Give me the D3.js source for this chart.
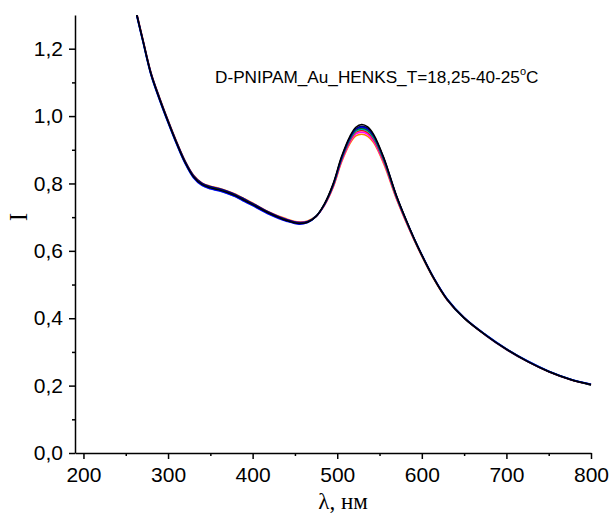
<!DOCTYPE html>
<html>
<head>
<meta charset="utf-8">
<script src="https://cdn.jsdelivr.net/npm/d3@7"></script>
<style>
  html, body { margin: 0; padding: 0; background: #fff; }
  svg { display: block; }
</style>
</head>
<body>
<svg id="chart" width="610" height="517"></svg>
<script>
// ---- data ----
const wavelengths = [263,270,280,290,300,310,320,330,340,350,360,370,380,390,400,420,440,455,465,475,485,495,505,515,522,529,536,543,555,570,586,596,614,630,650,675,700,725,750,775,800];

const seriesOrange  = [1.305,1.231,1.128,1.055,0.988,0.925,0.868,0.825,0.802,0.792,0.786,0.778,0.768,0.755,0.742,0.715,0.695,0.686,0.689,0.703,0.735,0.787,0.862,0.918,0.941,0.946,0.940,0.921,0.858,0.754,0.659,0.605,0.517,0.454,0.400,0.350,0.307,0.271,0.241,0.218,0.202];
const seriesMagenta = [1.303,1.229,1.126,1.053,0.986,0.923,0.866,0.823,0.800,0.790,0.784,0.776,0.766,0.753,0.740,0.713,0.693,0.684,0.687,0.702,0.736,0.789,0.865,0.923,0.947,0.952,0.946,0.926,0.862,0.756,0.660,0.606,0.518,0.455,0.401,0.351,0.308,0.272,0.242,0.219,0.203];
const seriesRed     = [1.301,1.227,1.124,1.051,0.984,0.921,0.864,0.821,0.798,0.788,0.782,0.774,0.764,0.751,0.738,0.712,0.692,0.683,0.686,0.702,0.737,0.791,0.868,0.927,0.952,0.957,0.951,0.931,0.866,0.758,0.661,0.606,0.518,0.455,0.401,0.351,0.308,0.272,0.242,0.219,0.203];
const seriesTeal    = [1.298,1.224,1.121,1.048,0.981,0.918,0.861,0.818,0.795,0.785,0.779,0.771,0.761,0.748,0.735,0.709,0.689,0.681,0.685,0.702,0.738,0.793,0.871,0.930,0.955,0.961,0.955,0.935,0.869,0.760,0.663,0.608,0.520,0.457,0.402,0.352,0.309,0.273,0.243,0.220,0.204];
const seriesGreen   = [1.302,1.228,1.125,1.052,0.985,0.922,0.865,0.822,0.799,0.789,0.783,0.775,0.765,0.752,0.739,0.712,0.691,0.682,0.686,0.703,0.738,0.794,0.873,0.933,0.958,0.964,0.958,0.938,0.871,0.761,0.663,0.607,0.518,0.455,0.400,0.351,0.308,0.272,0.242,0.219,0.202];
const seriesBlue    = [1.297,1.223,1.120,1.047,0.980,0.917,0.860,0.817,0.794,0.784,0.778,0.770,0.760,0.747,0.734,0.708,0.688,0.679,0.684,0.702,0.739,0.795,0.874,0.935,0.961,0.967,0.961,0.941,0.874,0.763,0.665,0.610,0.521,0.457,0.402,0.352,0.309,0.273,0.243,0.220,0.204];
const seriesNavy    = [1.304,1.230,1.127,1.054,0.987,0.924,0.867,0.824,0.801,0.791,0.785,0.777,0.767,0.754,0.741,0.714,0.693,0.684,0.687,0.703,0.739,0.796,0.876,0.937,0.963,0.970,0.964,0.943,0.875,0.763,0.664,0.608,0.519,0.455,0.400,0.350,0.307,0.271,0.241,0.218,0.202];
const seriesBlack   = [1.300,1.226,1.123,1.050,0.983,0.920,0.863,0.820,0.797,0.787,0.781,0.773,0.763,0.750,0.737,0.711,0.690,0.681,0.685,0.702,0.740,0.798,0.879,0.940,0.967,0.975,0.968,0.946,0.877,0.764,0.665,0.609,0.520,0.456,0.401,0.351,0.308,0.272,0.242,0.219,0.203];

const seriesList = [
  { name: "orange",  color: "#ff8000", values: seriesOrange },
  { name: "magenta", color: "#ff00ff", values: seriesMagenta },
  { name: "red",     color: "#ff0000", values: seriesRed },
  { name: "teal",    color: "#00b0c0", values: seriesTeal },
  { name: "green",   color: "#008000", values: seriesGreen },
  { name: "blue",    color: "#0000ff", values: seriesBlue },
  { name: "navy",    color: "#000080", values: seriesNavy },
  { name: "black",   color: "#000000", values: seriesBlack }
];

const xMajorTicks = [200,300,400,500,600,700,800];
const xMinorTicks = [250,350,450,550,650,750];
const yMajorTicks = [0,0.2,0.4,0.6,0.8,1.0,1.2];
const yMinorTicks = [0.1,0.3,0.5,0.7,0.9,1.1];

const titleMain = "D-PNIPAM_Au_HENKS_T=18,25-40-25";
const titleSup = "o";
const titleEnd = "C";
const xLabel = "λ, нм";
const yLabel = "I";

// ---- layout ----
const svg = d3.select("#chart");
const x = d3.scaleLinear().domain([190, 800]).range([75, 591]);
const y = d3.scaleLinear().domain([0, 1.3]).range([453, 15]);
const fmt = d => d3.format(".1f")(d).replace(".", ",");

const tickFont = "'Liberation Sans', Arial, sans-serif";
const serifFont = "'Liberation Serif', 'Times New Roman', serif";

// curves
const line = d3.line()
  .x((d, i) => x(wavelengths[i]))
  .y(d => y(d))
  .curve(d3.curveCatmullRom.alpha(0.5));

svg.append("clipPath").attr("id", "plotclip")
  .append("rect").attr("x", 75).attr("y", 15).attr("width", 520).attr("height", 438);

const gLines = svg.append("g").attr("clip-path", "url(#plotclip)");
seriesList.forEach(s => {
  gLines.append("path")
    .datum(s.values)
    .attr("fill", "none")
    .attr("stroke", s.color)
    .attr("stroke-width", 1.5)
    .attr("d", line);
});

// x axis
const gx = svg.append("g").attr("transform", `translate(0,${y(0)})`);
gx.call(d3.axisBottom(x).tickValues(xMajorTicks).tickSize(6).tickPadding(8).tickSizeOuter(0));
const gxm = svg.append("g").attr("transform", `translate(0,${y(0)})`);
gxm.call(d3.axisBottom(x).tickValues(xMinorTicks).tickSize(3).tickFormat("").tickSizeOuter(0));
gxm.select(".domain").remove();

// y axis
const gy = svg.append("g").attr("transform", `translate(${x(190)},0)`);
gy.call(d3.axisLeft(y).tickValues(yMajorTicks).tickFormat(fmt).tickSize(6).tickPadding(6).tickSizeOuter(0));
const gym = svg.append("g").attr("transform", `translate(${x(190)},0)`);
gym.call(d3.axisLeft(y).tickValues(yMinorTicks).tickSize(3).tickFormat("").tickSizeOuter(0));
gym.select(".domain").remove();

[gx, gxm, gy, gym].forEach(g => {
  g.selectAll("path, line").attr("stroke", "#000").attr("stroke-width", 1.5);
  g.selectAll("text").attr("font-family", tickFont).attr("font-size", 21).attr("fill", "#000");
});

// title
const t = svg.append("text")
  .attr("x", 215).attr("y", 83)
  .attr("font-family", tickFont).attr("font-size", 17.2).attr("fill", "#000");
t.append("tspan").text(titleMain);
t.append("tspan").attr("font-size", 11).attr("dy", -8).text(titleSup);
t.append("tspan").attr("dy", 8).text(titleEnd);

// axis labels
svg.append("text")
  .attr("x", 343).attr("y", 509)
  .attr("text-anchor", "middle")
  .attr("font-family", serifFont).attr("font-size", 23).attr("fill", "#000")
  .text(xLabel);

svg.append("text")
  .attr("transform", "translate(27,217) rotate(-90)")
  .attr("text-anchor", "middle")
  .attr("font-family", serifFont).attr("font-size", 25).attr("fill", "#000")
  .text(yLabel);
</script>
</body>
</html>
